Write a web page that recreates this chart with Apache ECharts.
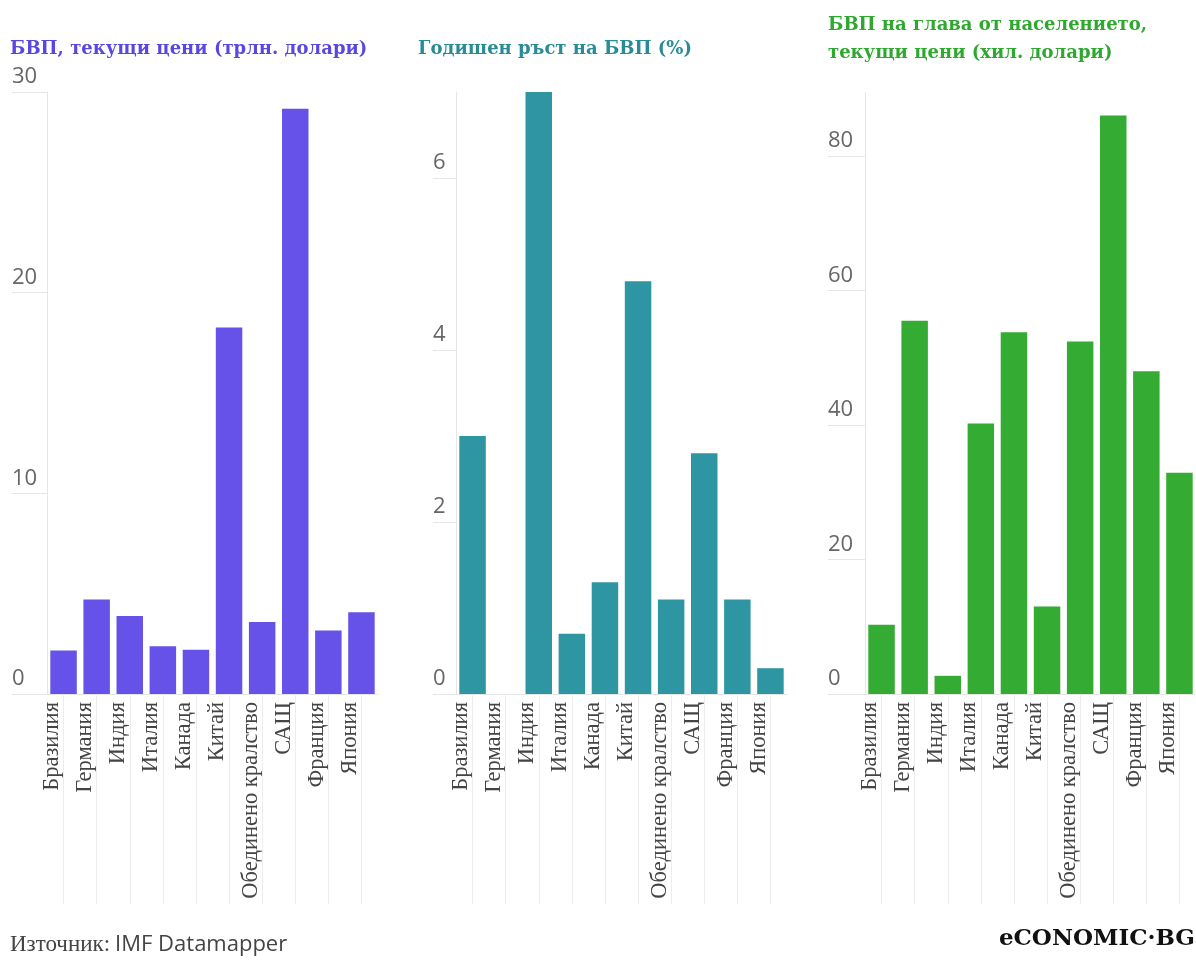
<!DOCTYPE html>
<html><head><meta charset="utf-8">
<script src="https://cdn.jsdelivr.net/npm/echarts@6/dist/echarts.min.js"></script>
<style>html,body{margin:0;padding:0;background:#fff}#c{width:1196px;height:962px}</style>
</head><body><div id="c"></div>
<script>
const countries = ['Бразилия','Германия','Индия','Италия','Канада','Китай','Обединено кралство','САЩ','Франция','Япония'];
const gdpTrillion = [2.17, 4.71, 3.89, 2.38, 2.21, 18.27, 3.59, 29.17, 3.17, 4.07];
const growthPct = [3.0, 0.0, 7.0, 0.7, 1.3, 4.8, 1.1, 2.8, 1.1, 0.3];
const gdpPerCapitaThousand = [10.3, 55.5, 2.7, 40.2, 53.8, 13.0, 52.4, 86.0, 48.0, 32.9];
const titles = ['БВП, текущи цени (трлн. долари)', 'Годишен ръст на БВП (%)', 'БВП на глава от населението,\nтекущи цени (хил. долари)'];
const ticks1 = [0, 10, 20, 30];
const ticks2 = [0, 2, 4, 6];
const ticks3 = [0, 20, 40, 60, 80];
const sourceLabel = 'Източник:';
const sourceName = 'IMF Datamapper';
const logoText = 'eCONOMIC·BG';

const chart = echarts.init(document.getElementById('c'));
const panels = [
  {left: 47, width: 331, tickLen: 35, data: gdpTrillion, color: '#6652e8', titleColor: '#5a47e2', max: 30, ticks: ticks1},
  {left: 456, width: 331, tickLen: 23, data: growthPct, color: '#2e95a3', titleColor: '#288c97', max: 7, ticks: ticks2},
  {left: 865, width: 331, tickLen: 37, data: gdpPerCapitaThousand, color: '#34ab33', titleColor: '#2ea82e', max: 89.5, ticks: ticks3}
];
const grid = [], xAxis = [], yAxis = [], series = [];
panels.forEach((p, i) => {
  grid.push({left: p.left, width: p.width, top: 92, bottom: 268, containLabel: false});
  xAxis.push({
    type: 'category', gridIndex: i, data: countries,
    axisLine: {show: true, lineStyle: {color: '#e6e6e6', width: 1}},
    axisTick: {show: true, alignWithLabel: true, length: 210, lineStyle: {color: '#ededed', width: 1}},
    axisLabel: {rotate: 90, margin: 8, verticalAlign: 'bottom', fontFamily: 'Liberation Serif', fontSize: 22.5, color: '#444', interval: 0}
  });
  yAxis.push({
    type: 'value', gridIndex: i, min: 0, max: p.max,
    axisLine: {show: true, lineStyle: {color: '#e6e6e6', width: 1}},
    axisTick: {show: true, length: p.tickLen, customValues: p.ticks, lineStyle: {color: '#e6e6e6', width: 1}},
    axisLabel: {customValues: p.ticks, align: 'left', margin: p.tickLen, verticalAlign: 'bottom', padding: [0, 0, 4, 0], fontFamily: 'Open Sans', fontSize: 22, color: '#666'},
    splitLine: {show: false}
  });
  series.push({type: 'bar', xAxisIndex: i, yAxisIndex: i, data: p.data, barCategoryGap: '20%', itemStyle: {color: p.color}, silent: true});
});
const titleLeft = [10, 418, 828];
const titleTop = [35, 35, 11];
const title = panels.map((p, i) => ({
  text: titles[i], left: titleLeft[i], top: titleTop[i], padding: 0,
  textStyle: {fontFamily: 'DejaVu Serif', fontWeight: 'bold', fontSize: 18, color: p.titleColor, lineHeight: 28}
}));
title.push({
  text: '{a|' + sourceLabel + '} {b|' + sourceName + '}', left: 10, top: 933, padding: 0,
  textStyle: {fontWeight: 'normal', rich: {
    a: {fontFamily: 'Liberation Serif', fontWeight: 'normal', fontSize: 23, color: '#444'},
    b: {fontFamily: 'Open Sans', fontWeight: 'normal', fontSize: 22, color: '#444'}
  }}
});
title.push({
  text: logoText, right: 1, top: 928, padding: 0,
  textStyle: {fontFamily: 'DejaVu Serif', fontWeight: 'bold', fontSize: 23, color: '#111'}
});
chart.setOption({animation: false, title, grid, xAxis, yAxis, series});
</script></body></html>
